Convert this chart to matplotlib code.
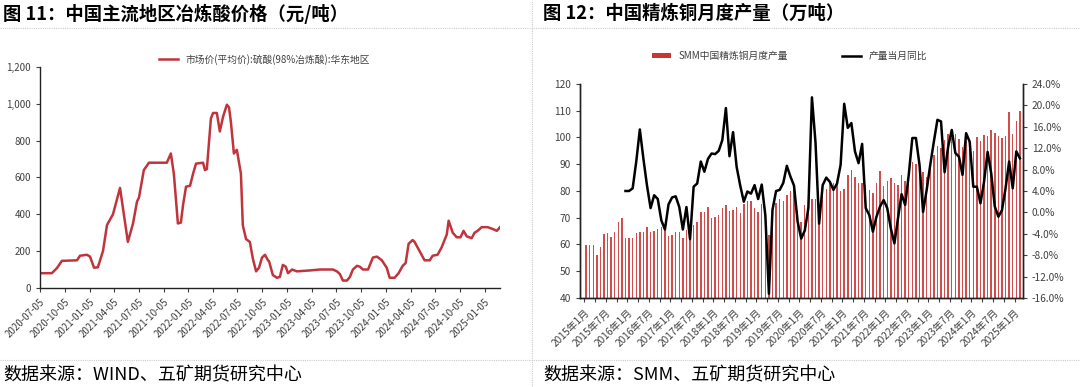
import matplotlib
matplotlib.use("Agg")
import matplotlib.pyplot as plt
from matplotlib.patches import Patch
from matplotlib.lines import Line2D
from matplotlib.ticker import FuncFormatter
import numpy as np
import pandas as pd

plt.rcParams["font.family"] = ["Noto Sans CJK SC", "DejaVu Sans"]
plt.rcParams["axes.unicode_minus"] = False

# ---- left panel: smelter acid price, East China (yuan/t) ----
acid_dates = [
    "2020-07-05", "2020-08-18", "2020-09-06", "2020-09-24", "2020-11-19", "2020-11-30",
    "2020-12-26", "2021-01-06", "2021-01-21", "2021-02-04", "2021-02-23", "2021-03-10",
    "2021-04-01", "2021-04-27", "2021-05-26", "2021-06-14", "2021-06-29", "2021-07-06",
    "2021-07-24", "2021-08-12", "2021-10-17", "2021-11-01", "2021-11-12", "2021-11-27",
    "2021-12-08", "2021-12-16", "2021-12-27", "2022-01-11", "2022-01-22", "2022-02-02",
    "2022-02-28", "2022-03-07", "2022-03-14", "2022-03-29", "2022-04-06", "2022-04-20",
    "2022-05-01", "2022-05-13", "2022-05-27", "2022-06-04", "2022-06-11", "2022-06-22",
    "2022-07-03", "2022-07-18", "2022-07-25", "2022-08-06", "2022-08-20", "2022-08-31",
    "2022-09-12", "2022-09-23", "2022-10-04", "2022-10-15", "2022-10-26", "2022-10-30",
    "2022-11-13", "2022-11-28", "2022-12-09", "2022-12-20", "2022-12-31", "2023-01-08",
    "2023-01-23", "2023-02-10", "2023-03-30", "2023-05-06", "2023-06-23", "2023-07-08",
    "2023-07-19", "2023-07-30", "2023-08-14", "2023-08-25", "2023-09-05", "2023-09-20",
    "2023-10-01", "2023-10-12", "2023-10-31", "2023-11-18", "2023-12-03", "2023-12-21",
    "2024-01-08", "2024-01-19", "2024-02-06", "2024-02-21", "2024-03-07", "2024-03-18",
    "2024-03-29", "2024-04-13", "2024-04-20", "2024-05-27", "2024-06-15", "2024-06-26",
    "2024-07-14", "2024-07-29", "2024-08-17", "2024-08-24", "2024-09-08", "2024-09-23",
    "2024-10-07", "2024-10-18", "2024-10-30", "2024-11-17", "2024-11-28", "2024-12-09",
    "2024-12-24", "2025-01-15", "2025-02-03", "2025-02-18", "2025-03-02",
]
acid_price = [
    80, 80, 108, 147, 150, 175,
    180, 170, 110, 112, 200, 342,
    400, 543, 250, 350, 470, 490,
    640, 680, 680, 730, 620, 350,
    355, 450, 550, 555, 620, 675,
    680, 640, 645, 920, 950, 950,
    850, 930, 995, 980, 900, 730,
    750, 620, 340, 265, 250, 160,
    90, 110, 165, 180, 150, 145,
    70, 55, 60, 125, 115, 80,
    100, 90, 95, 100, 100, 90,
    75, 40, 40, 60, 100, 120,
    115, 100, 100, 165, 170, 150,
    110, 55, 55, 80, 120, 135,
    240, 260, 250, 150, 150, 175,
    180, 220, 290, 365, 300, 275,
    275, 310, 280, 270, 300, 310,
    330, 330, 320, 310, 330,
]
acid_ticks = ["2020-07-05", "2020-10-05", "2021-01-05", "2021-04-05", "2021-07-05",
              "2021-10-05", "2022-01-05", "2022-04-05", "2022-07-05", "2022-10-05",
              "2023-01-05", "2023-04-05", "2023-07-05", "2023-10-05", "2024-01-05",
              "2024-04-05", "2024-07-05", "2024-10-05", "2025-01-05"]
acid_label = "市场价(平均价):硫酸(98%冶炼酸):华东地区"

# ---- right panel: SMM China refined copper output (10k t) and YoY (%) ----
cu_start = "2015-01"
cu_output = [
    59.8, 59.8, 59.8, 56.1, 59.2, 63.8, 64.2, 62.9, 64.5, 68.3,
    69.9, 62.3, 62.3, 62.3, 64.4, 64.8, 64.8, 66.4, 64.5, 65.0,
    65.7, 66.6, 66.3, 63.2, 63.6, 64.5, 64.5, 62.6, 65.4, 65.7,
    67.2, 68.4, 72.2, 72.0, 74.1, 70.0, 70.4, 71.0, 73.7, 74.7,
    72.4, 72.8, 74.1, 71.8, 75.3, 76.2, 76.2, 73.5, 72.2, 75.0,
    70.4, 63.5, 71.0, 75.4, 76.9, 76.3, 78.5, 80.0, 80.8, 72.5,
    68.4, 74.8, 75.4, 77.1, 77.1, 73.8, 81.0, 80.8, 83.3, 82.9,
    82.9, 80.0, 80.8, 86.0, 87.9, 85.4, 82.9, 83.1, 82.3, 80.4,
    79.2, 82.9, 87.3, 82.0, 83.8, 84.8, 82.9, 82.3, 86.0, 83.9,
    86.0, 90.7, 90.0, 88.5, 87.0, 85.4, 90.7, 93.5, 97.0, 96.0,
    99.1, 101.2, 99.7, 101.2, 99.5, 96.6, 98.5, 96.9, 95.0, 100.0,
    98.5, 101.0, 100.6, 102.9, 101.6, 100.4, 99.7, 100.6, 109.7, 101.2,
    106.0, 110.0,
]
yoy_start = "2015-12"
cu_yoy = [
    4.0, 4.0, 4.5, 9.5, 15.5, 10.0, 5.0, 0.8, 3.2, 2.5,
    -1.5, -3.2, 1.5, 2.8, 3.0, 1.0, -3.2, 1.0, -5.0, 4.8,
    5.4, 9.5, 7.6, 10.0, 11.0, 10.9, 11.5, 13.5, 19.5, 10.5,
    15.0, 8.5, 5.0, 2.0, 3.9, 3.5, 5.1, 2.5, 5.2, -0.5,
    -15.2, 0.5, 4.0, 4.2, 5.5, 8.7, 6.7, 5.0, -1.7, -4.9,
    -3.4, 0.8, 21.5, 13.0, -2.1, 5.1, 6.5, 5.7, 4.2, 5.4,
    8.9, 20.3, 15.8, 16.7, 11.4, 9.2, 12.8, 0.8, -0.5, -3.6,
    -0.8, 1.1, 2.3, 0.8, -3.0, -5.8, -1.1, 3.4, 1.4, 7.0,
    13.9, 13.9, 8.9, 0.1, 4.2, 8.9, 13.2, 17.3, 17.0, 7.5,
    12.3, 15.4, 11.1, 10.4, 7.0, 14.8, 13.2, 4.8, 4.8, 1.7,
    5.7, 11.3, 7.3, 1.1, -0.8, 0.4, 4.5, 9.5, 4.5, 11.4,
    10.1,
]
cu_labels = ["SMM中国精炼铜月度产量", "产量当月同比"]

RED = "#C0343C"
BAR_RED = "#C00000"
TXT = "#404040"

fig = plt.figure(figsize=(10.8, 3.87), dpi=100)

# titles, sources, dotted frame lines
fig.text(0.003, 0.965, "图 11：中国主流地区冶炼酸价格（元/吨）", fontsize=13.2,
         fontweight="bold", va="center", ha="left")
fig.text(0.503, 0.965, "图 12：中国精炼铜月度产量（万吨）", fontsize=13.2,
         fontweight="bold", va="center", ha="left")
fig.text(0.003, 0.030, "数据来源：WIND、五矿期货研究中心", fontsize=13,
         va="center", ha="left")
fig.text(0.503, 0.030, "数据来源：SMM、五矿期货研究中心", fontsize=13,
         va="center", ha="left")
for yy in (0.928, 0.070):
    fig.add_artist(Line2D([0, 1], [yy, yy], transform=fig.transFigure,
                          color="#cccccc", lw=0.8, ls=(0, (1, 1))))
fig.add_artist(Line2D([0.4926, 0.4926], [0, 1], transform=fig.transFigure,
                      color="#cccccc", lw=0.8, ls=(0, (1, 1))))

# ---- left chart ----
axL = fig.add_axes([0.037, 0.256, 0.426, 0.571])
d = pd.to_datetime(acid_dates)
axL.plot(d, acid_price, color=RED, lw=1.8, label=acid_label)
axL.set_ylim(0, 1200)
axL.set_yticks(range(0, 1201, 200))
axL.yaxis.set_major_formatter(FuncFormatter(lambda v, p: f"{v:,.0f}"))
axL.set_xlim(pd.Timestamp("2020-07-05"), pd.Timestamp("2025-03-02"))
axL.set_xticks(pd.to_datetime(acid_ticks))
axL.set_xticklabels(acid_ticks, rotation=45, ha="right", rotation_mode="anchor")
for s in ("top", "right"):
    axL.spines[s].set_visible(False)
for s in ("left", "bottom"):
    axL.spines[s].set_color("#222222")
    axL.spines[s].set_linewidth(1.0)
axL.tick_params(axis="both", labelsize=7, colors=TXT, length=3, width=0.8)
axL.legend(loc="center", bbox_to_anchor=(0.245, 0.847), bbox_transform=fig.transFigure,
           frameon=False, fontsize=7, handlelength=2.0, labelcolor=TXT)

# ---- right chart ----
axR = fig.add_axes([0.537, 0.230, 0.410, 0.553])
months = pd.period_range(cu_start, periods=len(cu_output), freq="M")
x = np.arange(len(cu_output))
axR.bar(x, cu_output, width=0.4, color=BAR_RED, alpha=0.7, linewidth=0)
axR.set_ylim(40, 120)
axR.set_yticks(range(40, 121, 10))
axR.set_xlim(-1.7, len(cu_output) - 0.2)
tick_pos = np.arange(0, len(cu_output), 3) - 0.5
axR.set_xticks(tick_pos)
axR.set_xticklabels([f"{m.year}年{m.month}月" if i % 6 == 0 else ""
                     for i, m in zip(range(0, len(cu_output), 3), months[::3])],
                    rotation=45, ha="right", rotation_mode="anchor")

axR2 = axR.twinx()
off = list(months).index(pd.Period(yoy_start, freq="M"))
axR2.plot(np.arange(off, off + len(cu_yoy)), cu_yoy, color="black", lw=1.8)
axR2.set_ylim(-16, 24)
axR2.set_yticks(range(-16, 25, 4))
axR2.yaxis.set_major_formatter(FuncFormatter(lambda v, p: f"{v:.1f}%"))

for a in (axR, axR2):
    a.spines["top"].set_visible(False)
    for s in ("left", "right", "bottom"):
        a.spines[s].set_color("#222222")
        a.spines[s].set_linewidth(1.0)
    a.tick_params(axis="both", labelsize=7.3, colors=TXT, length=3, width=0.8)

handles = [Patch(facecolor=BAR_RED, alpha=0.8),
           Line2D([0], [0], color="black", lw=1.8)]
fig.legend(handles, cu_labels, loc="center", bbox_to_anchor=(0.731, 0.855),
           ncol=2, frameon=False, fontsize=7, handlelength=2.0, handleheight=0.5,
           columnspacing=5.5, labelcolor=TXT)

fig.savefig("out.png", dpi=100)
